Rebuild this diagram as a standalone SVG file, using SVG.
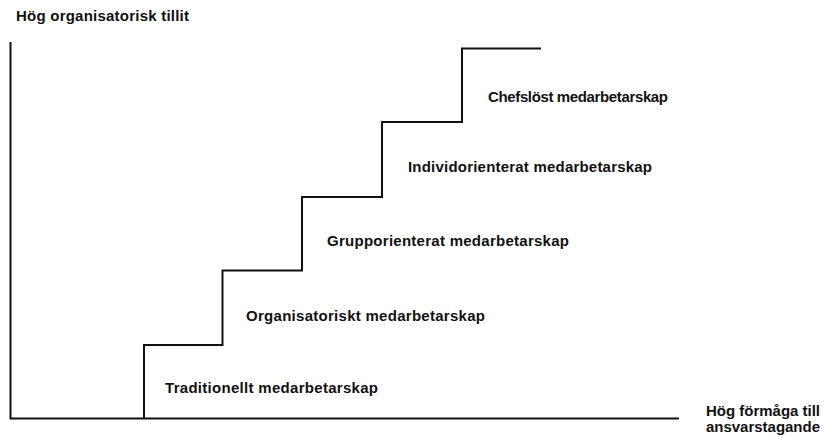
<svg xmlns="http://www.w3.org/2000/svg" width="824" height="437" viewBox="0 0 824 437">
<style>
text{font-family:"Liberation Sans",Arial,sans-serif;font-weight:bold;font-size:15px;fill:#111}
.ln{fill:none;stroke:#111;stroke-width:2}
</style>
<rect width="824" height="437" fill="#fff"/>
<g id="axes">
<path class="ln" d="M10.5 42 V418.5 H679"/>
<text x="16" y="21" textLength="173">Hög organisatorisk tillit</text>
<text x="706" y="416" textLength="114">Hög förmåga till</text>
<text x="706" y="432" textLength="114">ansvarstagande</text>
</g>
<g id="connectors">
<path class="ln" d="M144 418 V345 H222.5 V270.5 H302 V197 H382 V122 H462 V48.5 H541"/>
</g>
<g id="step1"><text x="165" y="393" textLength="213">Traditionellt medarbetarskap</text></g>
<g id="step2"><text x="246" y="321" textLength="239">Organisatoriskt medarbetarskap</text></g>
<g id="step3"><text x="327" y="246" textLength="242">Grupporienterat medarbetarskap</text></g>
<g id="step4"><text x="408" y="172" textLength="244">Individorienterat medarbetarskap</text></g>
<g id="step5"><text x="488" y="102" textLength="180">Chefslöst medarbetarskap</text></g>
</svg>
